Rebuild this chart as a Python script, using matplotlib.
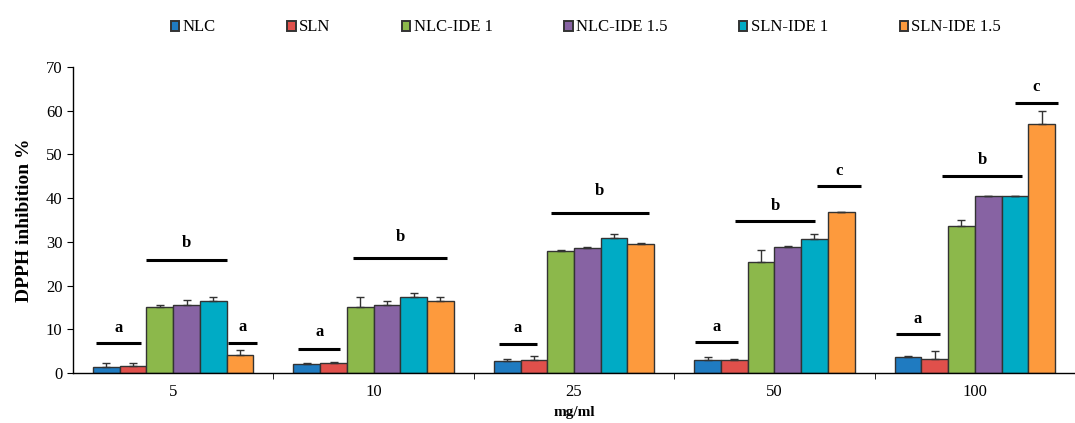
import matplotlib
matplotlib.use("Agg")
import matplotlib.pyplot as plt
import numpy as np

plt.rcParams['font.family'] = ['Liberation Serif', 'DejaVu Serif']

categories = ["5", "10", "25", "50", "100"]
series = ["NLC", "SLN", "NLC-IDE 1", "NLC-IDE 1.5", "SLN-IDE 1", "SLN-IDE 1.5"]
colors = ["#1f7bc1", "#e0504b", "#8cb84b", "#8763a3", "#00abc5", "#fd9a3d"]

nlc = [1.3, 2.0, 2.7, 3.0, 3.6]
sln = [1.6, 2.3, 3.0, 3.0, 3.1]
nlc_ide1 = [15.0, 15.0, 27.9, 25.3, 33.7]
nlc_ide15 = [15.6, 15.6, 28.7, 28.9, 40.4]
sln_ide1 = [16.4, 17.5, 30.9, 30.6, 40.4]
sln_ide15 = [4.1, 16.4, 29.5, 36.8, 56.9]

nlc_err = [0.9, 0.3, 0.5, 0.6, 0.2]
sln_err = [0.8, 0.2, 0.9, 0.2, 1.9]
nlc_ide1_err = [0.6, 2.5, 0.2, 2.8, 1.4]
nlc_ide15_err = [1.2, 0.8, 0.2, 0.2, 0.0]
sln_ide1_err = [1.1, 0.9, 0.9, 1.2, 0.0]
sln_ide15_err = [1.2, 0.9, 0.2, 0.0, 3.0]

values = [nlc, sln, nlc_ide1, nlc_ide15, sln_ide1, sln_ide15]
errors = [nlc_err, sln_err, nlc_ide1_err, nlc_ide15_err, sln_ide1_err, sln_ide15_err]

# significance annotations: (x_start, x_end, line_y, label_y, letter)
sig_x0 = [-0.386, -0.135, 0.275, 0.625, 0.897, 1.626, 1.884, 2.605, 2.802, 3.212, 3.607, 3.834, 4.199]
sig_x1 = [-0.159, 0.270, 0.418, 0.833, 1.366, 1.815, 2.373, 2.820, 3.205, 3.432, 3.824, 4.238, 4.416]
sig_y = [6.8, 25.8, 6.9, 5.6, 26.2, 6.7, 36.7, 7.0, 34.7, 42.8, 8.9, 45.0, 61.8]
sig_ly = [10.3, 29.7, 10.5, 9.4, 31.2, 10.2, 41.7, 10.6, 38.3, 46.3, 12.4, 48.7, 65.5]
sig_lab = ["a", "b", "a", "a", "b", "a", "b", "a", "b", "c", "a", "b", "c"]

fig = plt.figure(figsize=(10.75, 4.23), dpi=100)
ax = fig.add_axes([73/1075, 50/423, 1 - 73/1075, 306/423])

n = len(series)
w = 0.8 / n
x = np.arange(len(categories))
handles = []
for j in range(n):
    pos = x + (j - (n - 1) / 2) * w
    b = ax.bar(pos, values[j], width=w, color=colors[j], edgecolor="#333333",
               linewidth=1.0, label=series[j], zorder=2)
    ax.errorbar(pos, values[j], yerr=[np.zeros(len(x)), errors[j]], fmt="none",
                ecolor="#333333", elinewidth=1.0, capsize=2.6, capthick=1.0, zorder=3)
    handles.append(b)

for x0, x1, y, ly, lab in zip(sig_x0, sig_x1, sig_y, sig_ly, sig_lab):
    ax.plot([x0, x1], [y, y], color="black", lw=2.2, solid_capstyle="butt", zorder=4)
    ax.text((x0 + x1) / 2, ly, lab, ha="center", va="center", fontsize=12,
            fontweight="bold", zorder=4)

ax.set_xlim(-0.5, (1075 - 73) / 202.6 - 0.5)
ax.set_ylim(0, 70)
ax.set_yticks(np.arange(0, 71, 10))
ax.set_xticks(x)
ax.set_xticklabels(categories, fontsize=12)
ax.set_xticks(np.arange(len(categories)) + 0.5, minor=True)
ax.tick_params(axis="x", which="major", length=0, pad=8)
ax.tick_params(axis="x", which="minor", length=4, direction="out")
ax.tick_params(axis="y", labelsize=12, length=4, direction="out")
for s in ["top", "right"]:
    ax.spines[s].set_visible(False)
ax.spines["left"].set_linewidth(1.0)
ax.spines["bottom"].set_linewidth(1.0)

ax.set_ylabel("DPPH inhibition %", fontsize=14, fontweight="bold", labelpad=9)
ax.set_xlabel("mg/ml", fontsize=11, fontweight="bold", labelpad=4)

leg = fig.legend(handles=handles, labels=series, loc="center", bbox_to_anchor=(0.545, 0.935),
                 ncol=6, frameon=False, fontsize=12, handlelength=0.5, handleheight=0.55,
                 handletextpad=0.2, columnspacing=4.3)
for p in leg.get_patches():
    p.set_linewidth(1.4)

fig.savefig("out.png", dpi=100)
